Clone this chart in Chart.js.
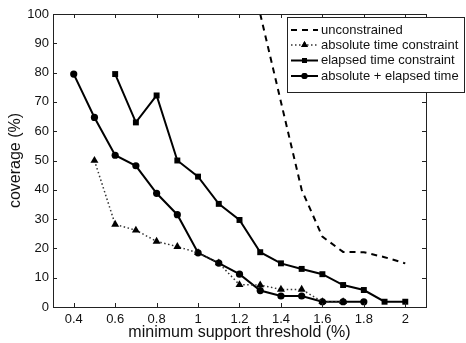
<!DOCTYPE html>
<html>
<head>
<meta charset="utf-8">
<script src="https://cdn.jsdelivr.net/npm/chart.js@4/dist/chart.umd.min.js"></script>
<style>
html,body{margin:0;padding:0;background:#fff;}
#wrap{width:466px;height:343px;position:relative;}
</style>
</head>
<body>
<div id="wrap"><canvas id="c" width="466" height="343"></canvas></div>
<script>
const thresholds = [0.4,0.5,0.6,0.7,0.8,0.9,1.0,1.1,1.2,1.3,1.4,1.5,1.6,1.7,1.8,1.9,2.0];
const unconstrained = [null,null,null,null,null,null,null,null,null,100,70,40,24,18.8,18.7,17,14.9];
const absoluteTime = [null,50,28.2,26.2,22.4,20.6,18.5,15,7.6,7.5,6,6,1.8,1.8,null,null,null];
const elapsedTime = [null,null,79.5,63,72.2,50,44.5,35.2,29.7,18.7,14.9,13,11.2,7.5,5.8,1.8,1.8];
const absPlusElapsed = [79.5,64.7,51.8,48.2,38.8,31.5,18.5,15,11.2,5.6,3.75,3.75,1.8,1.8,1.8,null,null];
const seriesNames = ['unconstrained','absolute time constraint','elapsed time constraint','absolute + elapsed time'];
const xTicks = [0.4,0.6,0.8,1.0,1.2,1.4,1.6,1.8,2.0];
const yTicks = [0,10,20,30,40,50,60,70,80,90,100];

const toPts = arr => thresholds.map((x,i)=>({x:x,y:arr[i]})).filter(p=>p.y!==null);
const FONT = "'Liberation Sans', Arial, Helvetica, sans-serif";

const styles = [
  {data:unconstrained, borderDash:[6,5], borderWidth:2, pointStyle:false, radius:0, color:'#000'},
  {data:absoluteTime, borderDash:[1.5,2.5], borderWidth:1.5, pointStyle:'triangle', radius:4.6, color:'#333'},
  {data:elapsedTime, borderDash:[], borderWidth:2, pointStyle:'rect', radius:4.2, color:'#000'},
  {data:absPlusElapsed, borderDash:[], borderWidth:2, pointStyle:'circle', radius:3.6, color:'#000'}
];

const datasets = styles.map((s,i)=>({
  label: seriesNames[i],
  data: toPts(s.data),
  borderColor: s.color,
  backgroundColor: '#000',
  borderWidth: s.borderWidth,
  borderDash: s.borderDash,
  pointStyle: s.pointStyle,
  pointRadius: s.radius,
  pointBackgroundColor: '#000',
  pointBorderColor: '#000',
  pointBorderWidth: 0,
  tension: 0,
  fill: false
}));

const framePlugin = {
  id: 'frame',
  afterDatasetsDraw(chart){
    const ctx = chart.ctx, a = chart.chartArea;
    const xs = chart.scales.x, ys = chart.scales.y;
    ctx.save();
    ctx.strokeStyle = '#222';
    ctx.lineWidth = 1;
    ctx.strokeRect(Math.round(a.left)+0.5, Math.round(a.top)+0.5, Math.round(a.right-a.left), Math.round(a.bottom-a.top));
    const tl = 4;
    ctx.beginPath();
    xTicks.forEach(v=>{
      const px = Math.round(xs.getPixelForValue(v))+0.5;
      ctx.moveTo(px, a.bottom); ctx.lineTo(px, a.bottom - tl);
      ctx.moveTo(px, a.top); ctx.lineTo(px, a.top + tl);
    });
    yTicks.forEach(v=>{
      const py = Math.round(ys.getPixelForValue(v))+0.5;
      ctx.moveTo(a.left, py); ctx.lineTo(a.left + tl, py);
      ctx.moveTo(a.right, py); ctx.lineTo(a.right - tl, py);
    });
    ctx.stroke();
    ctx.restore();
  },
  afterDraw(chart){
    // legend box in MATLAB style
    const ctx = chart.ctx;
    const bx = 287.5, by = 17.5, bw = 177, bh = 75;
    ctx.save();
    ctx.fillStyle = '#fff';
    ctx.fillRect(bx, by, bw, bh);
    ctx.strokeStyle = '#222';
    ctx.lineWidth = 1;
    ctx.strokeRect(bx, by, bw, bh);
    const rowY = [30, 45, 60.5, 76];
    ctx.font = "13px " + FONT;
    ctx.textBaseline = 'middle';
    chart.data.datasets.forEach((ds,i)=>{
      const y = rowY[i];
      ctx.save();
      ctx.strokeStyle = ds.borderColor;
      ctx.lineWidth = ds.borderWidth;
      ctx.setLineDash(ds.borderDash);
      ctx.beginPath();
      ctx.moveTo(291, y); ctx.lineTo(318, y);
      ctx.stroke();
      ctx.restore();
      if (ds.pointStyle) {
        ctx.fillStyle = '#000';
        Chart.helpers.drawPoint(ctx, {pointStyle: ds.pointStyle, radius: ds.pointRadius*0.85, borderWidth: 0, rotation: 0}, 304.5, y);
        ctx.fill();
      }
      ctx.fillStyle = '#111';
      ctx.fillText(ds.label, 321, y);
    });
    ctx.restore();
  }
};

new Chart(document.getElementById('c'), {
  type: 'line',
  data: { datasets: datasets },
  options: {
    responsive: false,
    animation: false,
    devicePixelRatio: 1,
    layout: { padding: { top: 14, right: 40, left: 0, bottom: 0 } },
    plugins: { legend: { display: false }, tooltip: { enabled: false } },
    scales: {
      x: {
        type: 'linear', min: 0.3, max: 2.1,
        afterBuildTicks: s => { s.ticks = xTicks.map(v=>({value:v})); },
        afterFit: s => { s.height = 36; },
        grid: { display: false, drawTicks: false },
        border: { display: false },
        ticks: { padding: 5, color: '#111', font: { family: FONT, size: 13 }, maxRotation: 0, autoSkip: false,
          callback: v => String(Math.round(v*10)/10) },
        title: { display: true, text: 'minimum support threshold (%)', color: '#111', font: { family: FONT, size: 16 }, padding: { top: 0, bottom: 0.5 } }
      },
      y: {
        type: 'linear', min: 0, max: 100,
        afterBuildTicks: s => { s.ticks = yTicks.map(v=>({value:v})); },
        afterFit: s => { s.width = 53; },
        grid: { display: false, drawTicks: false },
        border: { display: false },
        ticks: { padding: 4, color: '#111', font: { family: FONT, size: 13 }, autoSkip: false },
        title: { display: true, text: 'coverage (%)', color: '#111', font: { family: FONT, size: 16 }, padding: { top: 5.5, bottom: 0 } }
      }
    }
  },
  plugins: [framePlugin]
});
</script>
</body>
</html>
